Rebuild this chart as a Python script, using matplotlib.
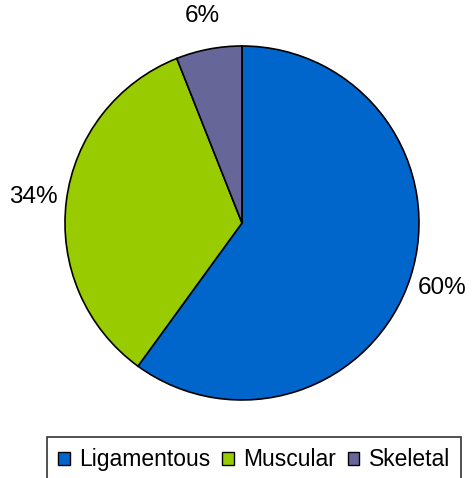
import matplotlib
matplotlib.use("Agg")
from matplotlib import pyplot as plt

labels = ["Ligamentous", "Muscular", "Skeletal"]
values = [60, 34, 6]
colors = ["#0066CC", "#99CC00", "#666699"]

plt.rcParams['font.family'] = ['Liberation Sans', 'DejaVu Sans']

fig = plt.figure(figsize=(4.74, 4.78), dpi=100)
ax = fig.add_axes([0.1371, 0.1632, 0.7468, 0.7406])

wedges, texts, autotexts = ax.pie(
    values, colors=colors, startangle=90, counterclock=False,
    autopct="%1.0f%%", pctdistance=1.19,
    wedgeprops=dict(edgecolor="black", linewidth=1.2),
    textprops=dict(fontsize=17.5, color="black"),
)
ax.set_xlim(-1, 1)
ax.set_ylim(-1, 1)
ax.set_aspect("equal")

leg = fig.legend(
    wedges, labels, ncol=3, loc="upper left",
    bbox_to_anchor=(47 / 474, 1 - 437 / 478),
    frameon=True, fancybox=False, edgecolor="black", fontsize=16.5,
    handlelength=0.5, handleheight=0.5, handletextpad=0.42,
    columnspacing=0.5, borderpad=0.5, borderaxespad=0,
)
leg.get_frame().set_linewidth(1.2)
for h in leg.legend_handles:
    h.set_linewidth(1.0)

fig.savefig("out.png", dpi=100)
